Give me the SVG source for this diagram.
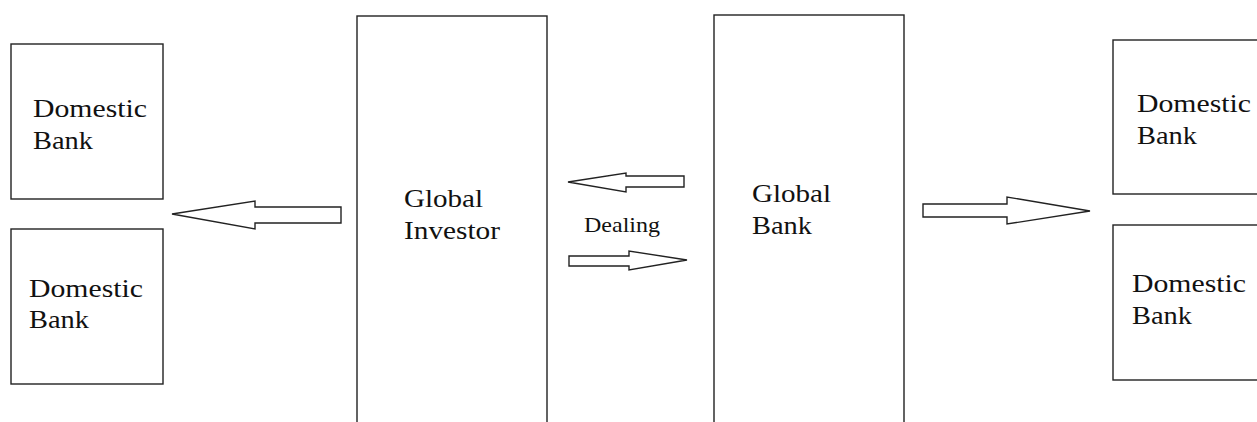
<svg xmlns="http://www.w3.org/2000/svg" width="1257" height="422" viewBox="0 0 1257 422">
<style>
.box{fill:#fff;stroke:#222;stroke-width:1.4}
.arr{fill:#fff;stroke:#222;stroke-width:1.4;stroke-linejoin:miter}
text{font-family:'Liberation Serif','DejaVu Serif',serif;fill:#111}
.t{font-size:26px}
.s{font-size:22px}
</style>
<rect width="1257" height="422" fill="#fff"/>
<g id="domestic-left-top">
<rect class="box" x="11" y="44" width="152" height="155"/>
<text class="t" x="33" y="117" textLength="114" lengthAdjust="spacingAndGlyphs">Domestic</text>
<text class="t" x="33" y="149" textLength="60" lengthAdjust="spacingAndGlyphs">Bank</text>
</g>
<g id="domestic-left-bottom">
<rect class="box" x="11" y="229" width="152" height="155"/>
<text class="t" x="29" y="297" textLength="114" lengthAdjust="spacingAndGlyphs">Domestic</text>
<text class="t" x="29" y="328" textLength="60" lengthAdjust="spacingAndGlyphs">Bank</text>
</g>
<g id="global-investor">
<rect class="box" x="357" y="16" width="190" height="420"/>
<text class="t" x="404" y="207" textLength="79" lengthAdjust="spacingAndGlyphs">Global</text>
<text class="t" x="404" y="239" textLength="96" lengthAdjust="spacingAndGlyphs">Investor</text>
</g>
<g id="global-bank">
<rect class="box" x="714" y="15" width="190" height="420"/>
<text class="t" x="752" y="202" textLength="79" lengthAdjust="spacingAndGlyphs">Global</text>
<text class="t" x="752" y="234" textLength="60" lengthAdjust="spacingAndGlyphs">Bank</text>
</g>
<g id="domestic-right-top">
<rect class="box" x="1113" y="40" width="160" height="154"/>
<text class="t" x="1137" y="112" textLength="114" lengthAdjust="spacingAndGlyphs">Domestic</text>
<text class="t" x="1137" y="144" textLength="60" lengthAdjust="spacingAndGlyphs">Bank</text>
</g>
<g id="domestic-right-bottom">
<rect class="box" x="1113" y="225" width="160" height="155"/>
<text class="t" x="1132" y="292" textLength="114" lengthAdjust="spacingAndGlyphs">Domestic</text>
<text class="t" x="1132" y="324" textLength="60" lengthAdjust="spacingAndGlyphs">Bank</text>
</g>
<g id="connectors">
<polygon class="arr" points="172,214 255,201 255,207 341,207 341,223 255,223 255,229"/>
<polygon class="arr" points="568,182 626,173 626,176 684,176 684,187 626,187 626,192"/>
<polygon class="arr" points="569,256 629,256 629,251 687,260 629,270 629,266 569,266"/>
<polygon class="arr" points="923,204 1007,204 1007,197 1090,211 1007,224 1007,217 923,217"/>
<text class="s" x="584" y="232" textLength="76" lengthAdjust="spacingAndGlyphs">Dealing</text>
</g>
</svg>
